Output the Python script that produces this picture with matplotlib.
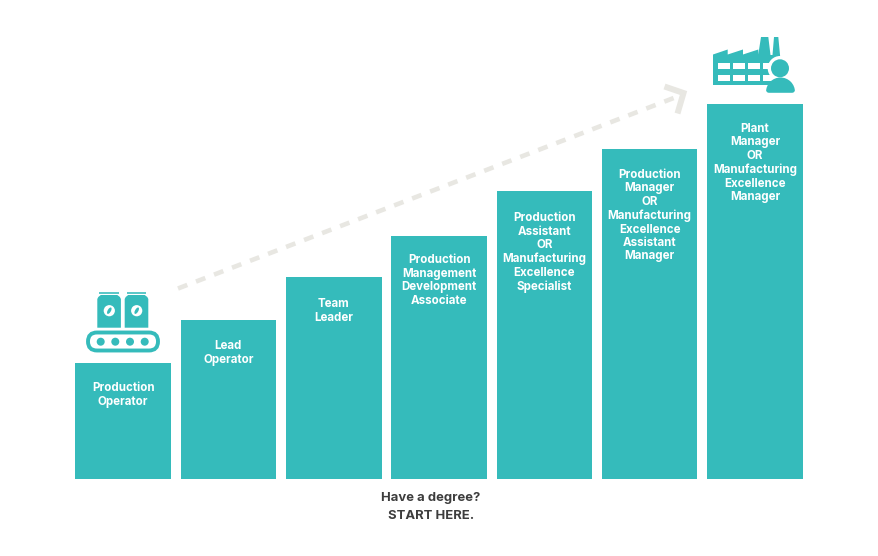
import matplotlib
matplotlib.use("Agg")
import matplotlib.pyplot as plt
from matplotlib.patches import Polygon, Circle, FancyBboxPatch, Rectangle, Ellipse

W, H = 879, 556
TEAL = "#35bbbb"
GREY = "#e8e7e2"
INK = "#3d3d3d"
plt.rcParams['font.family'] = ['Inter', 'DejaVu Sans']

categories = ["Production\nOperator", "Lead\nOperator", "Team\nLeader",
              "Production\nManagement\nDevelopment\nAssociate",
              "Production\nAssistant\nOR\nManufacturing\nExcellence\nSpecialist",
              "Production\nManager\nOR\nManufacturing\nExcellence\nAssistant\nManager",
              "Plant\nManager\nOR\nManufacturing\nExcellence\nManager"]
heights = [116, 159, 202, 243, 288, 330, 375]
label_offsets = [19.3, 20.3, 21.3, 18.3, 21.3, 20, 19]
footer = ["Have a degree?", "START HERE."]

fig = plt.figure(figsize=(W / 100, H / 100), dpi=100, facecolor="white")

# bars: x in category index, y in bar height
ax = fig.add_axes([0, 0, 1, 1])
step = 105.33
x0 = 123.1
ax.set_xlim(-x0 / step, (W - x0) / step)
ax.set_ylim(-(H - 479), 479)
ax.axis("off")
xs = list(range(len(categories)))
ax.bar(xs, heights, width=95.5 / step, color=TEAL, linewidth=0)
for x, h, off, lab in zip(xs, heights, label_offsets, categories):
    ax.text(x, h - off, lab, color="white", ha="center", va="top", fontsize=8.3,
            fontweight="bold", linespacing=1.165)

# decorations in pixel coordinates
px = fig.add_axes([0, 0, 1, 1], zorder=3)
px.set_xlim(0, W)
px.set_ylim(H, 0)
px.axis("off")
px.patch.set_alpha(0)

px.plot([178, 673.7], [288.5, 98], color=GREY, lw=3.3, ls=(0, (2.17, 2.04)),
        dash_capstyle="butt", zorder=1)
px.plot([664.5, 683.5, 677.5], [86.5, 93, 113.5], color=GREY, lw=4.3,
        solid_joinstyle="miter", solid_capstyle="butt", zorder=1)

# cans and conveyor
for cx0 in (97.3, 124.7):
    px.add_patch(Polygon([(cx0, 327.7), (cx0, 299), (cx0 + 1, 297), (cx0 + 3.5, 295), (cx0 + 20, 295),
                          (cx0 + 22.6, 297), (cx0 + 23.6, 299), (cx0 + 23.6, 327.7)],
                         closed=True, fc=TEAL, ec="none"))
    px.add_patch(Rectangle((cx0 + 2, 292), 19.6, 1.6, fc=TEAL, ec="none", alpha=0.8))
    cx = cx0 + 12
    px.add_patch(Circle((cx, 310.7), 5.6, fc="white", ec="none"))
    px.add_patch(Ellipse((cx, 310.7), 3.2, 7.2, angle=30, fc=TEAL, ec="none"))
px.add_patch(FancyBboxPatch((88, 332.5), 70, 18, boxstyle="round,pad=0,rounding_size=9",
                            fc="white", ec=TEAL, lw=2.8))
for cx in (100.7, 115.3, 130, 144.7):
    px.add_patch(Circle((cx, 341.7), 4, fc=TEAL, ec="none"))

# factory
px.add_patch(Polygon([(713, 85), (713, 54.5), (727.7, 49.5), (727.7, 54.5), (743, 49.5), (743, 54.5),
                      (758.3, 49.5), (758.3, 54.5), (761, 37), (768.3, 37), (770.5, 55),
                      (772.5, 55), (774, 37), (778.3, 37), (780.5, 60), (775, 85)],
                     closed=True, fc=TEAL, ec="none"))
for wy in (62.7, 74.7):
    for wx in (718.3, 733.3, 748.3, 763.3):
        px.add_patch(Rectangle((wx, wy), 11.7, 6, fc="white", ec="none"))
px.add_patch(Circle((780, 68.3), 12.3, fc="white", ec="none"))
px.add_patch(Polygon([(763, 85), (797, 85), (797, 96), (763, 96)], closed=True, fc="white", ec="none"))
px.add_patch(Circle((780, 68.3), 9, fc=TEAL, ec="none"))
body = Ellipse((780.5, 92), 29, 29, fc=TEAL, ec="none")
px.add_patch(body)
clip = FancyBboxPatch((766, 70), 29, 22.8, boxstyle="round,pad=0,rounding_size=3",
                      fc="none", ec="none", transform=px.transData)
px.add_patch(clip)
body.set_clip_path(clip)

for y, t in zip((498.3, 516.3), footer):
    px.text(431, y, t, color=INK, ha="center", va="center", fontsize=9.4, fontweight="bold")

fig.savefig("out.png", dpi=100, facecolor="white")
